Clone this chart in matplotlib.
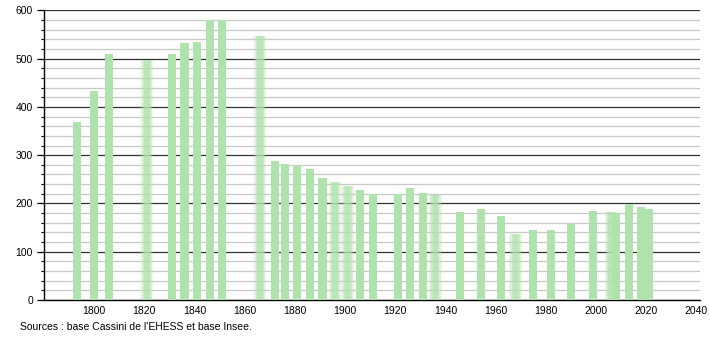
import matplotlib
matplotlib.use('Agg')
import matplotlib.pyplot as plt
from matplotlib.ticker import MultipleLocator

# census years and population
years = [1793, 1800, 1806, 1821, 1831, 1836, 1841, 1846, 1851, 1866,
         1872, 1876, 1881, 1886, 1891, 1896, 1901, 1906, 1911, 1921,
         1926, 1931, 1936, 1946, 1954, 1962, 1968, 1975, 1982, 1990,
         1999, 2006, 2008, 2013, 2018, 2021]
pop = [368, 433, 509, 497, 509, 532, 534, 579, 581, 547,
       287, 282, 279, 271, 252, 244, 236, 227, 219, 219,
       231, 221, 217, 182, 188, 175, 137, 146, 144, 158,
       184, 183, 180, 199, 193, 188]
# years drawn with soft edges in the original
blurred = [1821, 1866, 1896, 1901, 1936, 1968, 2006]

source = "Sources : base Cassini de l'EHESS et base Insee."

plt.rcParams['font.family'] = ['Liberation Sans', 'DejaVu Sans']

fig = plt.figure(figsize=(7.1, 3.4), dpi=100)
ax = fig.add_axes([0.062, 0.1176, 0.924, 0.852])

bar_col = '#b0e2ad'
w = 3.2
for y, p in zip(years, pop):
    if y in blurred:
        for ww, a in [(w * 1.6, 0.2), (w * 1.3, 0.3), (w * 1.0, 0.4), (w * 0.7, 0.5)]:
            ax.bar(y, p, width=ww, color=bar_col, alpha=a, linewidth=0, zorder=3)
    else:
        ax.bar(y, p, width=w, color=bar_col, linewidth=0, zorder=3)

ax.set_xlim(1780, 2041.5)
ax.set_ylim(0, 600)

ax.yaxis.set_major_locator(MultipleLocator(100))
ax.yaxis.set_minor_locator(MultipleLocator(20))
ax.set_xticks(range(1800, 2041, 20))

ax.grid(axis='y', which='minor', color='#c8c8c8', linewidth=0.9, zorder=1)
ax.grid(axis='y', which='major', color='#333333', linewidth=0.9, zorder=2)

for s in ['top', 'right']:
    ax.spines[s].set_visible(False)
ax.spines['left'].set_linewidth(1.0)
ax.spines['bottom'].set_linewidth(1.0)

ax.tick_params(axis='y', which='major', length=5, width=0.9, labelsize=7.5, pad=3)
ax.tick_params(axis='y', which='minor', length=2.5, width=0.8)
ax.tick_params(axis='x', length=0, labelsize=7.5, pad=4)

fig.text(20 / 710, 1 - 327 / 340, source, fontsize=7.5, va='center', ha='left')

fig.savefig('out.png', dpi=100)
